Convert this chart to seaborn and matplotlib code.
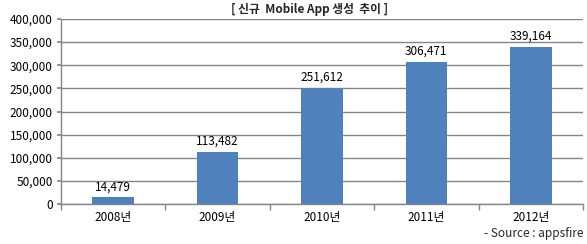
import matplotlib
matplotlib.use("Agg")
import numpy as np
import pandas as pd
import seaborn as sns
import matplotlib.pyplot as plt
from matplotlib.ticker import FuncFormatter, FixedLocator

years = ["2008년", "2009년", "2010년", "2011년", "2012년"]
apps = [14479, 113482, 251612, 306471, 339164]
y_ticks = [0, 50000, 100000, 150000, 200000, 250000, 300000, 350000, 400000]

sns.set_theme(style="white")
plt.rcParams["font.family"] = ["Noto Sans CJK KR", "DejaVu Sans"]

df = pd.DataFrame({"year": years, "apps": apps})

fig = plt.figure(figsize=(5.87, 2.44), dpi=100)
ax = fig.add_axes([61 / 587, 1 - 204 / 244, (583 - 61) / 587, (204 - 19) / 244])

sns.barplot(data=df, x="year", y="apps", color="#4F81BD", width=0.4,
            saturation=1, linewidth=0, ax=ax, zorder=3)

for i, v in enumerate(apps):
    ax.text(i, v + 9000, f"{v:,}", ha="center", va="bottom", fontsize=8.5,
            color="black")

ax.set_ylim(0, 400000)
ax.set_xlim(-0.5, 4.5)
ax.set_yticks(y_ticks)
ax.yaxis.set_major_formatter(FuncFormatter(lambda v, p: f"{int(v):,}"))
ax.yaxis.grid(True, color="#868686", linewidth=1, zorder=0)
ax.set_xlabel("")
ax.set_ylabel("")
ax.tick_params(axis="both", labelsize=8.5, colors="black")
ax.tick_params(axis="y", length=3, color="#868686", direction="out", pad=3, left=True)
ax.tick_params(axis="x", which="major", length=0, pad=5)
ax.xaxis.set_minor_locator(FixedLocator(np.arange(-0.5, 5.0, 1.0)))
ax.tick_params(axis="x", which="minor", length=4, color="#868686", direction="out", bottom=True)

for side in ["top", "right"]:
    ax.spines[side].set_visible(False)
for side in ["left", "bottom"]:
    ax.spines[side].set_color("#868686")
    ax.spines[side].set_linewidth(1)

fig.text(310 / 587, 1 - 9 / 244, "[ 신규  Mobile App 생성  추이 ]", ha="center",
         va="center", fontsize=8.5, fontweight="bold")
fig.text(583 / 587, 1 - 234 / 244, "- Source : appsfire", ha="right",
         va="center", fontsize=8.5)

fig.savefig("out.png", dpi=100)
